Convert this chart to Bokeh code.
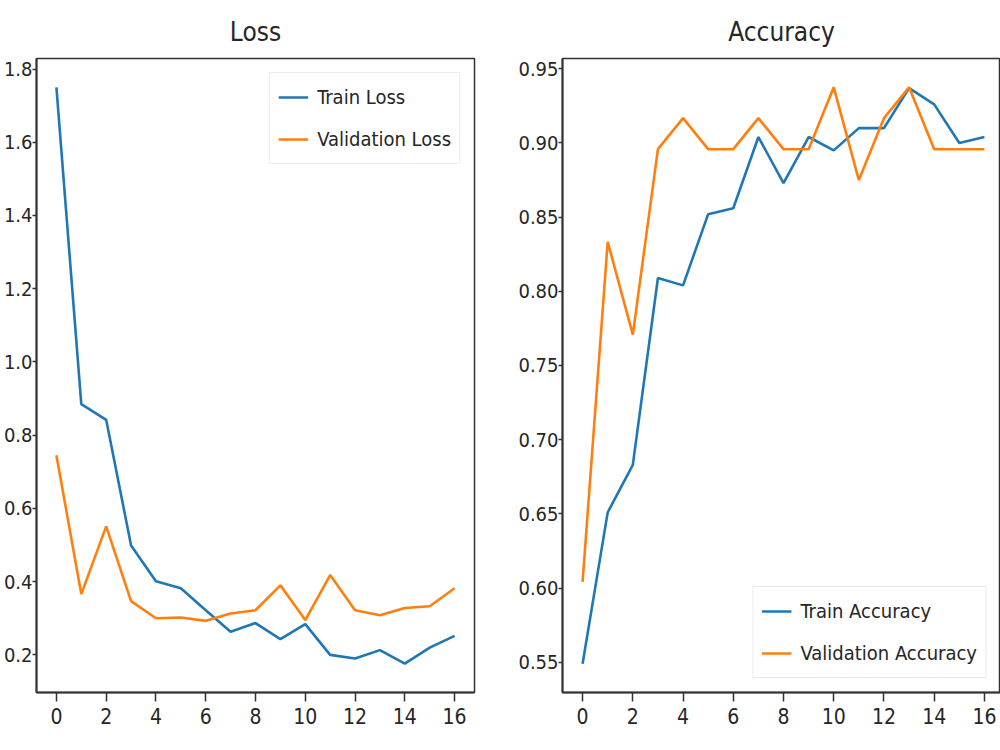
from bokeh.plotting import figure
from bokeh.layouts import row
from bokeh.models import Range1d, FixedTicker, NumeralTickFormatter, Legend, LegendItem
from bokeh.embed import file_html
from bokeh.resources import INLINE

# Training history, one value per epoch
epochs = list(range(17))
train_loss = [1.75, 0.885, 0.842, 0.499, 0.401, 0.382, 0.322, 0.263, 0.287,
              0.243, 0.284, 0.200, 0.190, 0.213, 0.176, 0.220, 0.252]
val_loss = [0.745, 0.366, 0.551, 0.347, 0.300, 0.302, 0.293, 0.313, 0.322,
            0.390, 0.295, 0.418, 0.322, 0.308, 0.328, 0.333, 0.382]
train_acc = [0.549, 0.651, 0.683, 0.809, 0.804, 0.852, 0.856, 0.904, 0.873,
             0.904, 0.895, 0.910, 0.910, 0.937, 0.926, 0.900, 0.904]
val_acc = [0.6042, 0.8333, 0.7708, 0.8958, 0.9167, 0.8958, 0.8958, 0.9167, 0.8958,
           0.8958, 0.9375, 0.8750, 0.9167, 0.9375, 0.8958, 0.8958, 0.8958]

x_ticks = [0, 2, 4, 6, 8, 10, 12, 14, 16]
loss_ticks = [0.2, 0.4, 0.6, 0.8, 1.0, 1.2, 1.4, 1.6, 1.8]
acc_ticks = [0.55, 0.60, 0.65, 0.70, 0.75, 0.80, 0.85, 0.90, 0.95]

BLUE = "#1f77b4"
ORANGE = "#ff7f0e"
FONT = "DejaVu Sans Condensed, Roboto, sans-serif"
INK = "#262626"


def padded(values, frac=0.05):
    lo, hi = min(values), max(values)
    pad = (hi - lo) * frac
    return lo - pad, hi + pad


def make_panel(title, series_a, series_b, label_a, label_b, yticks, yfmt,
               x_end, frame_w, border_l, border_r, legend_loc):
    ylo, yhi = padded(series_a + series_b)
    p = figure(frame_width=frame_w, frame_height=634,
               min_border_left=border_l, min_border_right=border_r,
               min_border_top=58, min_border_bottom=58,
               x_range=Range1d(-0.8, x_end), y_range=Range1d(ylo, yhi),
               output_backend="svg", toolbar_location=None,
               background_fill_color="white", border_fill_color="white")
    p.grid.visible = False
    p.outline_line_color = "#333333"
    p.outline_line_width = 1.5

    p.title.text = title
    p.title.align = "center"
    p.title.text_font = FONT
    p.title.text_font_size = "26px"
    p.title.text_font_style = "normal"
    p.title.text_color = INK
    p.title.standoff = 24

    for ax in (p.xaxis[0], p.yaxis[0]):
        ax.axis_line_color = "#333333"
        ax.axis_line_width = 2
        ax.major_tick_line_color = "#333333"
        ax.major_tick_line_width = 1.5
        ax.major_tick_in = 0
        ax.minor_tick_line_color = None
        ax.major_label_text_font = FONT
        ax.major_label_text_color = INK

    p.xaxis.ticker = FixedTicker(ticks=x_ticks)
    p.xaxis.major_tick_out = 9
    p.xaxis.major_label_standoff = 6
    p.xaxis.major_label_text_font_size = "21px"
    p.yaxis.ticker = FixedTicker(ticks=yticks)
    p.yaxis.formatter = NumeralTickFormatter(format=yfmt)
    p.yaxis.major_tick_out = 4
    p.yaxis.major_label_standoff = 0
    p.yaxis.major_label_text_font_size = "20px"

    ra = p.line(epochs, series_a, line_color=BLUE, line_width=2.6)
    rb = p.line(epochs, series_b, line_color=ORANGE, line_width=2.6)

    legend = Legend(items=[LegendItem(label=label_a, renderers=[ra]),
                           LegendItem(label=label_b, renderers=[rb])],
                    location=legend_loc, margin=14, padding=8,
                    spacing=10, glyph_width=30, glyph_height=22,
                    label_standoff=9, label_height=32,
                    label_text_font=FONT, label_text_font_size="20px",
                    label_text_color=INK,
                    border_line_color="#d9d9d9", border_line_width=1.5,
                    background_fill_color="white", background_fill_alpha=0.85)
    p.add_layout(legend, "center")
    return p


p_loss = make_panel("Loss", train_loss, val_loss, "Train Loss", "Validation Loss",
                    loss_ticks, "0.0", 16.8, 438, 33, 26, "top_right")
p_acc = make_panel("Accuracy", train_acc, val_acc, "Train Accuracy", "Validation Accuracy",
                   acc_ticks, "0.00", 16.64, 438, 62, 0, "bottom_right")

layout = row(p_loss, p_acc)
open("out.html", "w").write(file_html(layout, INLINE))
